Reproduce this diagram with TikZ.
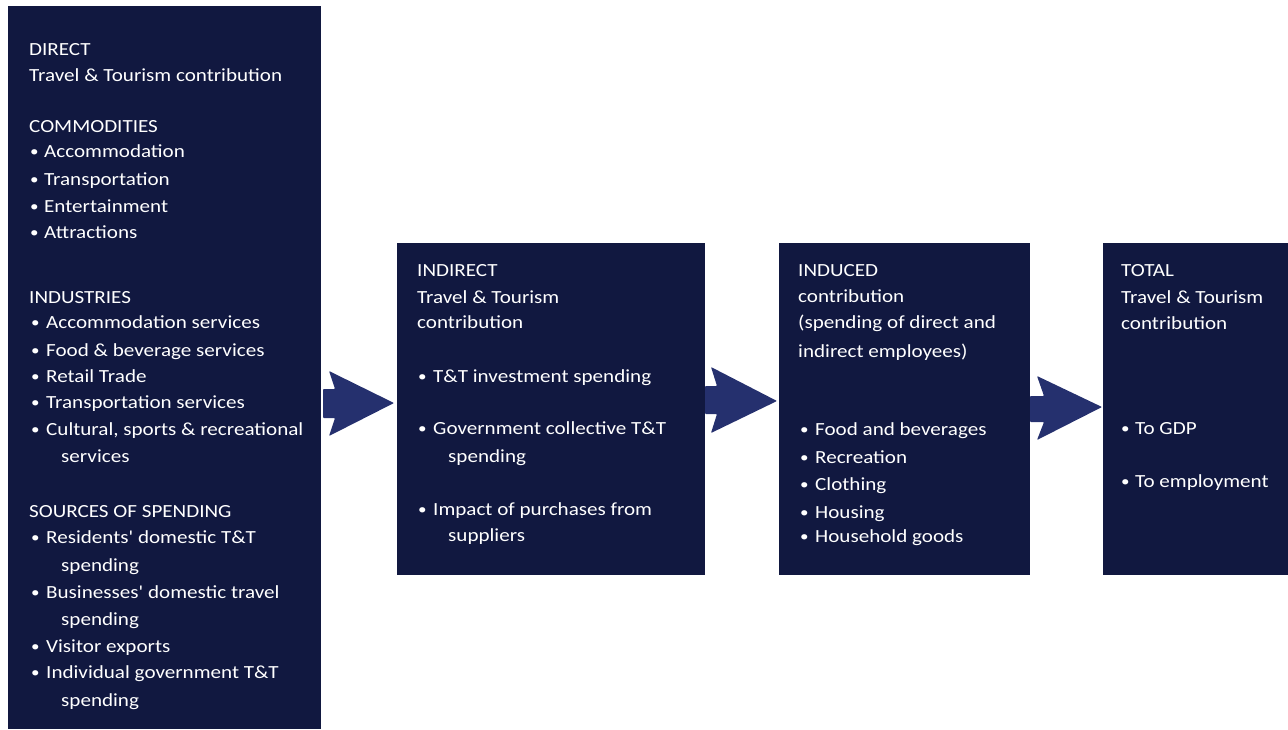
\documentclass[tikz,border=0pt]{standalone}
\usepackage{fontspec}
\setmainfont[FakeStretch=1.14]{Carlito}
\newfontfamily\plainq[FakeStretch=1.14]{Carlito}
\begin{document}
\begin{tikzpicture}[x=1pt,y=-1pt,
  box/.style={fill=boxc,draw=none},
  txt/.style={anchor=base west,inner sep=0pt,text=white,font=\fontsize{18.5}{22}\selectfont},
  bul/.style={anchor=base west,inner sep=0pt,text=white,font=\fontsize{15}{22}\selectfont},
  barrow/.style={fill=arrc,draw=none,rounded corners=0.8pt}]
\definecolor{boxc}{HTML}{111840}
\definecolor{arrc}{HTML}{25306E}
\newcommand{\apos}{{\plainq'}}
\useasboundingbox (0,0) rectangle (1288,729);
% boxes
\fill[box] (8,6) rectangle (321,729) coordinate (b1);
\fill[box] (397,243) rectangle (705,575) coordinate (b2);
\fill[box] (779,243) rectangle (1030,575) coordinate (b3);
\fill[box] (1103,243) rectangle (1288,575) coordinate (b4);
% arrows
\newcommand{\blockarr}[9]{%
  \fill[barrow] (#1,#2) -- (#4,#2) -- (#5,#6) -- (#8,#9) -- (#5,#7) -- (#4,#3) -- (#1,#3) -- cycle;}
\blockarr{323}{389}{418}{335}{329}{371}{436}{394}{403}
\blockarr{705}{386}{414}{717}{711}{367}{433}{777}{401}
\blockarr{1030}{396}{422}{1044}{1037}{376}{440}{1102}{407}
% helpers
\newcommand{\hd}[4]{\node[txt] (#1) at (#2,#3) {#4};}
\newcommand{\bi}[6]{\node[bul] (#1b) at (#2,#4-1) {•};\node[txt] (#1) at (#3,#4) {#6};}
% box 1
\hd{d1}{29}{55}{DIRECT}
\hd{d2}{29}{81}{Travel \& Tourism contribution}
\hd{d3}{29}{132}{COMMODITIES}
\bi{c1}{30}{44}{157}{}{Accommodation}
\bi{c2}{30}{44}{185}{}{Transportation}
\bi{c3}{30}{44}{212}{}{Entertainment}
\bi{c4}{30}{44}{238}{}{Attractions}
\hd{d4}{29}{303}{INDUSTRIES}
\bi{i1}{31}{46}{328}{}{Accommodation services}
\bi{i2}{31}{46}{356}{}{Food \& beverage services}
\bi{i3}{31}{46}{382}{}{Retail Trade}
\bi{i4}{31}{46}{408}{}{Transportation services}
\bi{i5}{31}{46}{435}{}{Cultural, sports \& recreational}
\hd{i5c}{61}{462}{services}
\hd{d5}{29}{517}{SOURCES OF SPENDING}
\bi{s1}{31}{46}{543}{}{Residents\apos{} domestic T\&T}
\hd{s1c}{61}{571}{spending}
\bi{s2}{31}{46}{598}{}{Businesses\apos{} domestic travel}
\hd{s2c}{61}{625}{spending}
\bi{s3}{31}{46}{652}{}{Visitor exports}
\bi{s4}{31}{46}{678}{}{Individual government T\&T}
\hd{s4c}{61}{706}{spending}
% box 2
\hd{n1}{417}{276}{INDIRECT}
\hd{n2}{417}{303}{Travel \& Tourism}
\hd{n3}{417}{328}{contribution}
\bi{m1}{418}{433}{382}{}{T\&T investment spending}
\bi{m2}{418}{433}{434}{}{Government collective T\&T}
\hd{m2c}{448}{462}{spending}
\bi{m3}{418}{433}{515}{}{Impact of purchases from}
\hd{m3c}{448}{541}{suppliers}
% box 3
\hd{u1}{798}{276}{INDUCED}
\hd{u2}{798}{302}{contribution}
\hd{u3}{798}{328}{(spending of direct and}
\hd{u4}{798}{357}{indirect employees)}
\bi{v1}{800}{815}{435}{}{Food and beverages}
\bi{v2}{800}{815}{463}{}{Recreation}
\bi{v3}{800}{815}{490}{}{Clothing}
\bi{v4}{800}{815}{518}{}{Housing}
\bi{v5}{800}{815}{542}{}{Household goods}
% box 4
\hd{t1}{1121}{276}{TOTAL}
\hd{t2}{1121}{303}{Travel \& Tourism}
\hd{t3}{1121}{329}{contribution}
\bi{w1}{1121}{1135}{434}{}{To GDP}
\bi{w2}{1121}{1135}{487}{}{To employment}
\end{tikzpicture}
\end{document}
